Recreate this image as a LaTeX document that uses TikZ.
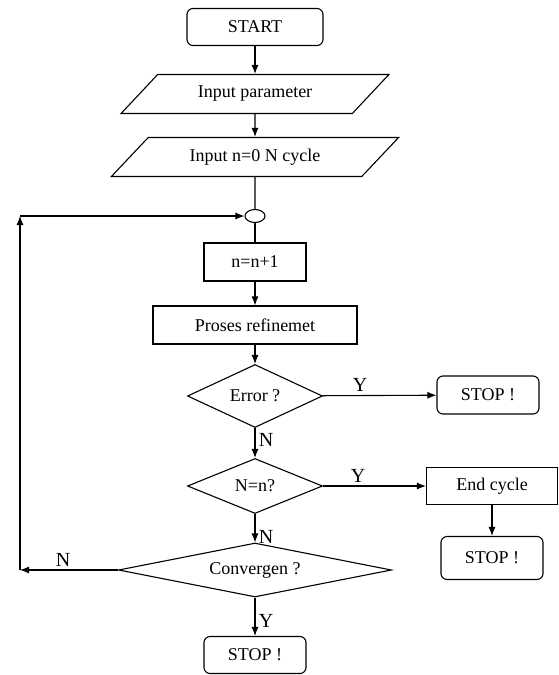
\documentclass[tikz,border=0pt]{standalone}
\usepackage{fontspec}
\setmainfont{Liberation Serif}
\usetikzlibrary{shapes.geometric,arrows.meta}

\begin{document}
\begin{tikzpicture}[x=1pt,y=-1pt,line width=1.1pt,
    font=\fontsize{18}{21}\selectfont,
    term/.style={draw,rounded corners=6pt,minimum width=102pt,minimum height=38pt,inner sep=0pt},
    proc/.style={draw,minimum height=38pt,inner sep=0pt},
    io/.style={draw,trapezium,trapezium left angle=36,trapezium right angle=144,
      trapezium stretches=true,minimum height=39pt,inner sep=0pt},
    dec/.style={draw,diamond,inner sep=0pt},
    arw/.style={-{Latex[length=9pt,width=7pt]}},
    lbl/.style={font=\fontsize{20}{22}\selectfont}]
    \useasboundingbox (0,0) rectangle (559,675);

    \node[term,minimum width=136pt,minimum height=37pt] (start) at (255,27) {START};
    \node[io,minimum width=268pt] (param) at (255,94) {Input parameter};
    \node[io,minimum width=288pt] (inp) at (255,157) {Input n=0 N cycle};
    \node[draw,ellipse,minimum width=20pt,minimum height=13pt,inner sep=0pt] (join) at (255,216) {};
    \node[proc,minimum width=102pt] (inc) at (255,262) {n=n+1};
    \node[proc,minimum width=204pt] (proses) at (255,325) {Proses refinemet};
    \node[dec,aspect=2.14,minimum width=135pt,minimum height=63pt] (err) at (255,396) {Error ?};
    \node[term] (stopa) at (488,395) {STOP !};
    \node[dec,aspect=2.45,minimum width=135pt,minimum height=55pt] (chk) at (255,486) {N=n?};
    \node[proc,minimum width=131pt,minimum height=37pt] (endc) at (492,486) {End cycle};
    \node[term,minimum height=43pt] (stopb) at (492,558) {STOP !};
    \node[dec,aspect=5.06,minimum width=273pt,minimum height=54pt] (conv) at (255,570) {Convergen ?};
    \node[term,minimum height=37pt] (stopc) at (255,655) {STOP !};
    \coordinate (loopb) at (20,570);
    \coordinate (loopt) at (20,216);

    \draw[arw] (start) -- (param);
    \draw[arw] (param) -- (inp);
    \draw (inp) -- (join);
    \draw (join) -- (inc);
    \draw[arw] (inc) -- (proses);
    \draw[arw] (proses) -- (err);
    \draw[arw] (err) -- node[lbl,above,pos=0.33] {Y} (stopa);
    \draw[arw] (err) -- node[lbl,right,pos=0.4] {N} (chk);
    \draw[arw] (chk) -- node[lbl,above,pos=0.34] {Y} (endc);
    \draw[arw] (endc) -- (stopb);
    \draw[arw] (chk) -- node[lbl,right,pos=0.8] {N} (conv);
    \draw[arw] (conv) -- node[lbl,right,pos=0.6] {Y} (stopc);
    \draw[arw] (conv.west) -- node[lbl,above,pos=0.56] {N} (loopb);
    \draw[arw] (loopb) -- (loopt);
    \draw[arw] (loopt) -- (join);
\end{tikzpicture}
\end{document}
